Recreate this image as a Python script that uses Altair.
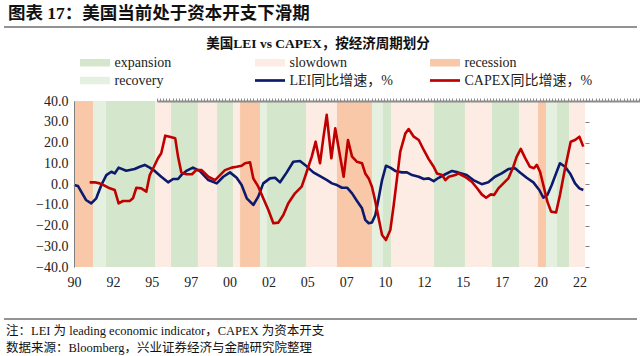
import altair as alt
import pandas as pd

# ---------------- data ----------------
lei_years = [1990.00, 1990.26, 1990.77, 1991.11, 1991.43, 1991.76, 1992.08, 1992.40, 1992.62, 1992.87,
             1993.36, 1993.90, 1994.23, 1994.55, 1994.87, 1995.19, 1995.61, 1996.05, 1996.37, 1996.69,
             1996.90, 1997.22, 1997.65, 1998.08, 1998.64, 1999.18, 1999.60, 2000.03, 2000.46, 2000.78,
             2001.11, 2001.53, 2001.85, 2002.17, 2002.60, 2002.93, 2003.25, 2003.68, 2004.10, 2004.53,
             2004.86, 2005.39, 2005.82, 2006.27, 2006.59, 2006.91, 2007.23, 2007.56, 2007.88, 2008.20,
             2008.52, 2008.73, 2008.95, 2009.16, 2009.38, 2009.59, 2009.81, 2010.06, 2010.34, 2010.66,
             2011.09, 2011.41, 2011.74, 2012.17, 2012.49, 2012.81, 2013.13, 2013.45, 2013.88, 2014.31,
             2014.69, 2015.25, 2015.68, 2016.22, 2016.64, 2017.07, 2017.50, 2017.93, 2018.36, 2018.68,
             2019.11, 2019.54, 2019.92, 2020.18, 2020.44, 2020.72, 2021.00, 2021.25, 2021.58, 2021.90,
             2022.22, 2022.50, 2022.75]
lei_values = [-0.5, -1.0, -7.7, -9.3, -6.9, -0.5, 4.3, 5.9, 5.1, 7.9,
              6.4, 7.2, 8.3, 9.2, 7.9, 6.3, 3.5, 0.8, 2.4, 2.4,
              4.3, 6.3, 7.9, 6.3, 1.9, 0.3, 3.5, 5.6, 3.0, -0.5,
              -6.9, -10.1, -6.1, 0.3, 2.7, 3.0, 0.8, 5.6, 10.7, 11.1,
              9.2, 5.6, 3.8, 1.9, 0.3, -0.5, -1.8, -1.8, -4.5, -8.2,
              -11.7, -17.3, -18.9, -18.6, -14.9, -6.9, 1.9, 8.8, 7.9, 6.3,
              5.6, 5.6, 4.3, 3.5, 2.4, 2.7, 1.4, 3.0, 4.7, 6.3,
              5.6, 4.3, 1.9, -0.1, 0.8, 3.5, 5.1, 7.2, 7.6, 5.6,
              3.0, 0.8, -2.9, -6.6, -5.3, -0.5, 5.1, 10.0, 8.3, 5.1,
              0.3, -2.1, -2.9]

capex_years = [1991.01, 1991.33, 1991.65, 1991.97, 1992.30, 1992.62, 1992.87, 1993.15, 1993.58, 1993.79,
               1994.01, 1994.33, 1994.65, 1994.87, 1995.14, 1995.40, 1995.61, 1995.87, 1996.15, 1996.51,
               1996.69, 1996.90, 1997.22, 1997.59, 1997.86, 1998.21, 1998.64, 1999.07, 1999.39, 1999.71,
               2000.14, 2000.46, 2000.78, 2001.00, 2001.32, 2001.53, 2001.85, 2002.17, 2002.50, 2002.82,
               2003.14, 2003.46, 2003.78, 2004.21, 2004.64, 2004.86, 2005.07, 2005.29, 2005.54, 2005.82,
               2006.03, 2006.25, 2006.55, 2006.80, 2007.02, 2007.34, 2007.62, 2007.88, 2008.20, 2008.52,
               2008.73, 2008.95, 2009.16, 2009.38, 2009.59, 2009.81, 2010.06, 2010.34, 2010.56, 2010.77,
               2010.98, 2011.31, 2011.52, 2011.85, 2012.17, 2012.49, 2012.81, 2013.13, 2013.34, 2013.67,
               2013.88, 2014.10, 2014.52, 2014.71, 2015.14, 2015.58, 2015.90, 2016.22, 2016.50, 2016.80,
               2017.01, 2017.29, 2017.61, 2017.93, 2018.25, 2018.47, 2018.73, 2019.00, 2019.32, 2019.58,
               2019.76, 2019.97, 2020.18, 2020.44, 2020.68, 2021.00, 2021.25, 2021.58, 2021.94, 2022.22,
               2022.50, 2022.75]
capex_values = [0.8, 0.8, 0.3, -0.8, -2.1, -2.9, -9.3, -8.2, -8.2, -6.9,
                -1.8, -2.1, -3.7, 4.3, 8.3, 12.4, 14.8, 23.3, 22.8, 22.0,
                13.2, 5.6, 4.7, 4.7, 6.7, 6.7, 3.5, 1.9, 4.3, 6.7,
                7.9, 8.3, 8.8, 10.0, 10.5, 2.7, -1.3, -6.9, -12.5, -18.9,
                -18.6, -14.9, -9.3, -4.5, -1.3, 3.5, 8.3, 13.2, 20.4, 10.0,
                22.0, 33.3, 12.4, 26.8, 17.2, 3.5, 21.2, 13.2, 10.7, 10.0,
                5.1, 2.7, -1.3, -8.5, -16.5, -24.6, -27.0, -22.2, -10.1, 2.7,
                15.6, 24.4, 26.5, 22.8, 21.2, 16.4, 12.0, 8.3, 5.1, 4.3,
                1.9, 3.5, 4.3, 5.1, 3.5, 1.1, -1.8, -5.0, -6.6, -5.0,
                -5.3, -2.1, 0.3, 2.7, 8.3, 13.2, 16.9, 12.7, 8.3, 7.6,
                9.2, 5.9, -0.5, -8.5, -13.3, -13.7, -5.3, 7.6, 20.4, 21.2,
                22.8, 18.0]

phase_names = ["recession", "recovery", "expansion", "slowdown", "expansion", "slowdown",
               "expansion", "slowdown", "recession", "recovery", "expansion", "slowdown",
               "recession", "recovery", "expansion", "slowdown", "expansion", "slowdown",
               "expansion", "slowdown", "recession", "recovery", "expansion", "slowdown"]
phase_start = [1990.00, 1991.22, 1992.06, 1995.21, 1996.24, 1997.97,
               1999.20, 2000.23, 2000.68, 2001.96, 2002.41, 2004.92,
               2006.91, 2009.16, 2009.87, 2010.39, 2013.15, 2015.14,
               2016.88, 2018.62, 2019.84, 2020.35, 2021.06, 2021.83]
phase_end = [1991.22, 1992.06, 1995.21, 1996.24, 1997.97, 1999.20,
             2000.23, 2000.68, 2001.96, 2002.41, 2004.92, 2006.91,
             2009.16, 2009.87, 2010.39, 2013.15, 2015.14, 2016.88,
             2018.62, 2019.84, 2020.35, 2021.06, 2021.83, 2022.86]

series_names = ["LEI同比增速，%", "CAPEX同比增速，%"]
legend_order = ["expansion", "slowdown", "recession", "recovery"] + series_names
legend_colors = ["#d4e7cc", "#fdece3", "#f8c8a8", "#e5f0e0", "#0c1a6e", "#c00000"]

x_domain = [1990.0, 2022.86]
y_domain = [-40, 40]
y_ticks = [-40, -30, -20, -10, 0, 10, 20, 30, 40]
x_ticks = [1990, 1992.5, 1995, 1997.5, 2000, 2002.5, 2005, 2007.5, 2010, 2012.5,
           2015, 2017.5, 2020, 2022.5]

header = "图表 17：美国当前处于资本开支下滑期"
chart_title = "美国LEI vs CAPEX，按经济周期划分"
note = "注：LEI 为 leading economic indicator，CAPEX 为资本开支"
source = "数据来源：Bloomberg，兴业证券经济与金融研究院整理"

# ---------------- tables ----------------
bands = pd.DataFrame({"phase": phase_names, "start": phase_start, "end": phase_end})
lines = pd.concat([
    pd.DataFrame({"year": lei_years, "value": lei_values, "series": series_names[0], "order": 0}),
    pd.DataFrame({"year": capex_years, "value": capex_values, "series": series_names[1], "order": 1}),
], ignore_index=True)

FONT = "Liberation Serif, Noto Sans CJK SC"
W, H = 511, 166

xscale = alt.Scale(domain=x_domain, nice=False, zero=False)
yscale = alt.Scale(domain=y_domain, nice=False, zero=False)
cscale = alt.Scale(domain=legend_order, range=legend_colors)

legend = alt.Legend(
    title=None, orient="none", legendX=6, legendY=-46, columns=3, direction="horizontal",
    gridAlign="all",
    symbolType={"expr": "indexof(datum.label, '%') >= 0 ? 'M-2,-0.18H2V0.18H-2Z' : 'M-2,-0.5H2V0.5H-2Z'"},
    symbolSize=225, symbolStrokeWidth=0, symbolOpacity=1, symbolOffset=7.5,
    labelFont=FONT, labelFontSize=14, labelColor="#222222", labelOffset=12,
    columnPadding=12, rowPadding=3, padding=0, labelLimit=300,
)

band_layer = alt.Chart(bands).mark_rect().encode(
    x=alt.X("start:Q", scale=xscale, axis=alt.Axis(
        orient="bottom", values=x_ticks, labelExpr="format(floor(datum.value) % 100, '02d')",
        ticks=False, domain=False, grid=False, labelPadding=8, title=None, labelFlush=False,
        labelFont=FONT, labelFontSize=14, labelColor="#222222")),
    x2="end:Q",
    y=alt.Y(datum=-40, type="quantitative", scale=yscale, axis=alt.Axis(
        orient="right", position=0, values=y_ticks, labels=False, domain=False,
        ticks=True, tickSize=4, tickColor="#7f7f7f", tickWidth=1, grid=False, title=None, zindex=1)),
    y2=alt.Y2(datum=40),
    color=alt.Color("phase:N", scale=cscale, legend=legend),
)

line_layer = alt.Chart(lines).mark_line(strokeWidth=2.6, strokeJoin="round").encode(
    x=alt.X("year:Q", scale=xscale, axis=alt.Axis(
        orient="top", position=H / 2, tickCount=165, labels=False, domain=True,
        domainColor="#8c8c8c", domainWidth=2.2, ticks=True, tickSize=3, tickWidth=1,
        tickColor="#8c8c8c", grid=False, title=None, zindex=1)),
    y=alt.Y("value:Q", scale=yscale, axis=alt.Axis(
        orient="left", values=y_ticks, format=".1f", ticks=False, domain=True,
        domainColor="#7f7f7f", domainWidth=1, grid=False, title=None, labelPadding=6,
        labelFont=FONT, labelFontSize=14, labelColor="#222222", zindex=1)),
    color=alt.Color("series:N", scale=cscale, legend=legend),
    order=alt.Order("order:Q"),
)


def text_layer(txt, x, y, size, bold=False, align="left"):
    return alt.Chart(pd.DataFrame({"t": [txt]})).mark_text(
        align=align, baseline="middle", font=FONT, fontSize=size,
        fontWeight="bold" if bold else "normal", color="#111111",
    ).encode(text="t:N", x=alt.value(x), y=alt.value(y))


def hrule(y):
    return alt.Chart(pd.DataFrame({"k": [0]})).mark_rule(color="#6f6f6f", strokeWidth=1.4).encode(
        x=alt.value(-70), x2=alt.value(563), y=alt.value(y))


chart = alt.layer(
    band_layer,
    line_layer,
    text_layer(header, -66, -87, 17.5, bold=True),
    hrule(-74),
    text_layer(chart_title, 244, -57, 13.5, bold=True, align="center"),
    hrule(218),
    text_layer(note, -68, 230, 12.5),
    text_layer(source, -68, 247, 12.5),
).resolve_axis(x="independent", y="independent").properties(
    width=W, height=H,
    padding={"left": 74, "top": 101, "right": 55, "bottom": 89},
    autosize=alt.AutoSizeParams(type="none"),
    background="white",
).configure_view(stroke=None)

chart.save("out.html", embed_options={"renderer": "svg", "actions": False})
